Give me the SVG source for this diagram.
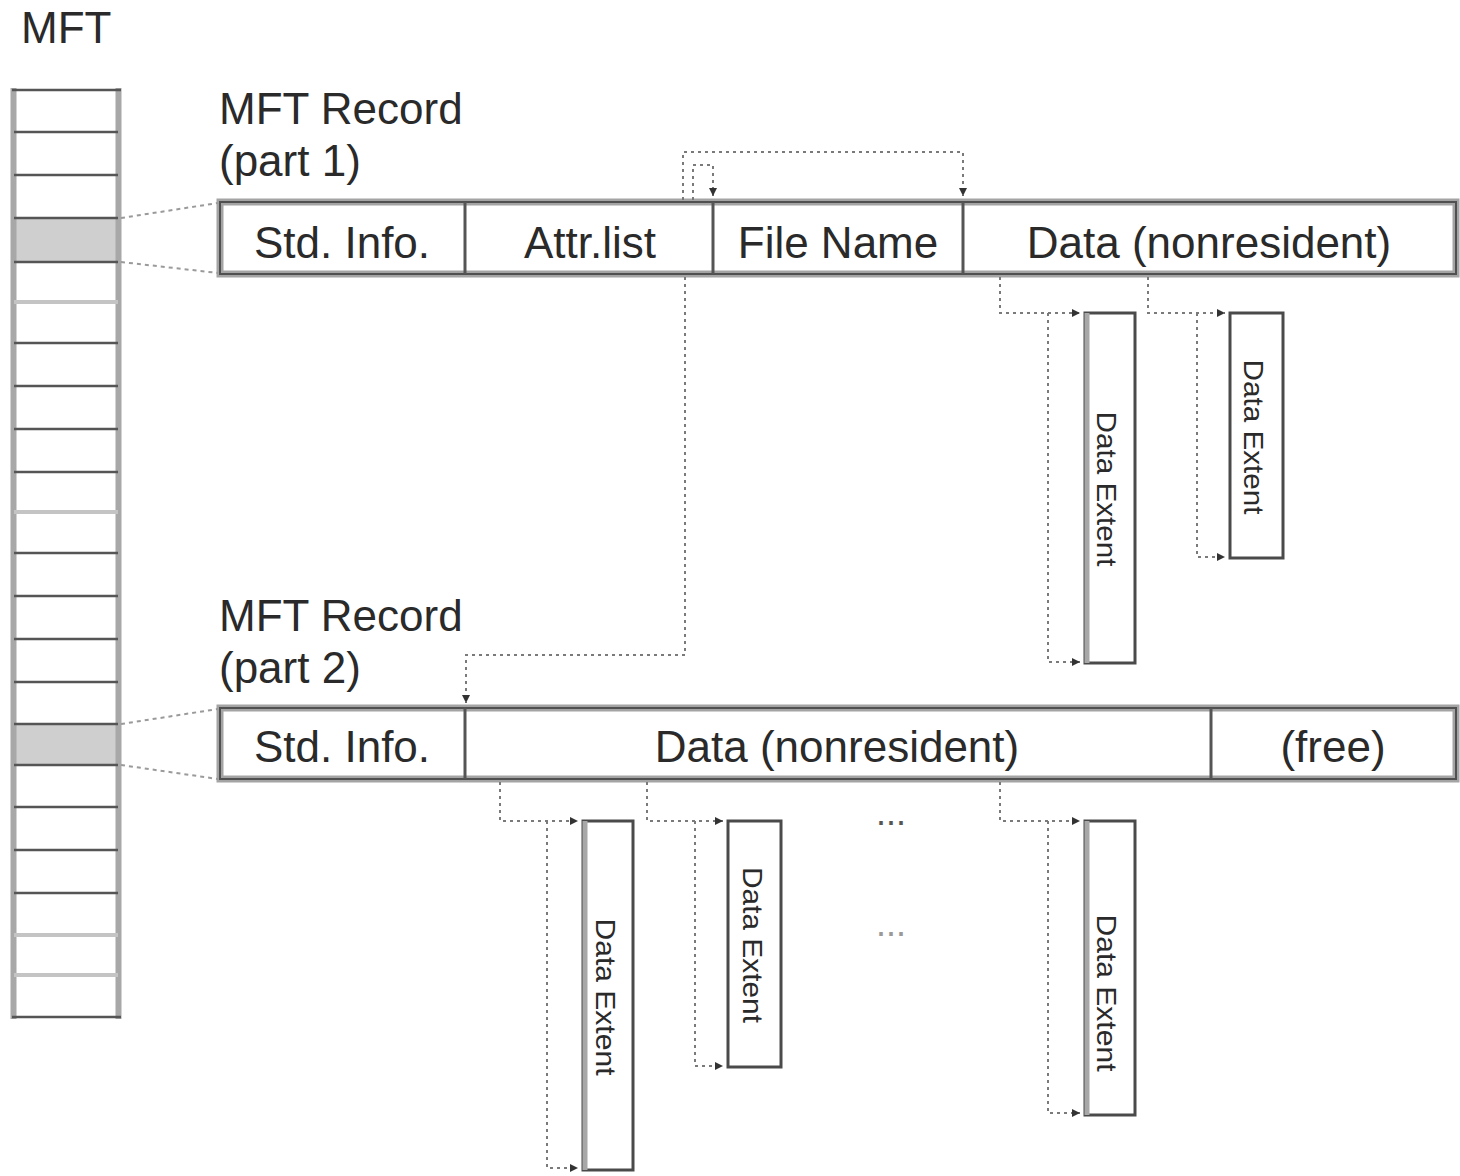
<svg xmlns="http://www.w3.org/2000/svg" width="1460" height="1176" viewBox="0 0 1460 1176">
<defs>
<style>
text{font-family:"Liberation Sans",Arial,sans-serif;fill:#2a2a2a}
.lbl{font-size:44px}
.cell{font-size:44px;text-anchor:middle}
.ext{font-size:28px;text-anchor:middle;dominant-baseline:central}
.row{stroke:#555;stroke-width:2.5}
.rowl{stroke:#c4c4c4;stroke-width:4}
.side{stroke:#a8a8a8;stroke-width:6}
.shade{fill:#cfcfcf}
.recout{fill:#fff;stroke:#a4a4a4;stroke-width:7}
.recin{fill:none;stroke:#505050;stroke-width:2}
.div{stroke:#555;stroke-width:3}
.extbox{fill:#fff;stroke:#4a4a4a;stroke-width:3}
.extside{stroke:#a8a8a8;stroke-width:5}
.dot{fill:none;stroke:#7a7a7a;stroke-width:2;stroke-dasharray:3 4}
.link{fill:none;stroke:#9a9a9a;stroke-width:2;stroke-dasharray:4 4}
.ell{font-size:36px;fill:#555;text-anchor:middle}
</style>
<marker id="ah" markerUnits="userSpaceOnUse" markerWidth="10" markerHeight="10" refX="8" refY="4" orient="auto">
<path d="M0,0 L8,4 L0,8 z" fill="#333"/>
</marker>
</defs>
<rect width="1460" height="1176" fill="#fff"/>

<g id="mft">
<text class="lbl" x="21" y="43">MFT</text>
<rect class="shade" x="14" y="218" width="104" height="44"/>
<rect class="shade" x="14" y="724" width="104" height="41"/>
<line class="side" x1="13.5" y1="88" x2="13.5" y2="1019"/>
<line class="side" x1="118.5" y1="88" x2="118.5" y2="1019"/>
<g>
<line class="row" x1="12" y1="90" x2="121" y2="90"/>
<line class="row" x1="14" y1="132" x2="118" y2="132"/>
<line class="row" x1="14" y1="175" x2="118" y2="175"/>
<line class="row" x1="14" y1="218" x2="118" y2="218"/>
<line class="row" x1="14" y1="262" x2="118" y2="262"/>
<line class="rowl" x1="14" y1="302" x2="118" y2="302"/>
<line class="row" x1="14" y1="343" x2="118" y2="343"/>
<line class="row" x1="14" y1="386" x2="118" y2="386"/>
<line class="row" x1="14" y1="429" x2="118" y2="429"/>
<line class="row" x1="14" y1="472" x2="118" y2="472"/>
<line class="rowl" x1="14" y1="512" x2="118" y2="512"/>
<line class="row" x1="14" y1="553" x2="118" y2="553"/>
<line class="row" x1="14" y1="596" x2="118" y2="596"/>
<line class="row" x1="14" y1="639" x2="118" y2="639"/>
<line class="row" x1="14" y1="682" x2="118" y2="682"/>
<line class="row" x1="14" y1="724" x2="118" y2="724"/>
<line class="row" x1="14" y1="765" x2="118" y2="765"/>
<line class="row" x1="14" y1="807" x2="118" y2="807"/>
<line class="row" x1="14" y1="850" x2="118" y2="850"/>
<line class="row" x1="14" y1="893" x2="118" y2="893"/>
<line class="rowl" x1="14" y1="935" x2="118" y2="935"/>
<line class="rowl" x1="14" y1="975" x2="118" y2="975"/>
<line class="row" x1="12" y1="1017" x2="121" y2="1017"/>
</g>
</g>

<g id="record1">
<text class="lbl" x="219" y="124">MFT Record</text>
<text class="lbl" x="219" y="176">(part 1)</text>
<rect class="recout" x="220" y="202" width="1236" height="72"/>
<rect class="recin" x="220" y="202" width="1236" height="72"/>
<line class="div" x1="465" y1="202" x2="465" y2="274"/>
<line class="div" x1="713" y1="202" x2="713" y2="274"/>
<line class="div" x1="963" y1="202" x2="963" y2="274"/>
<text class="cell" x="342" y="258">Std. Info.</text>
<text class="cell" x="590" y="258">Attr.list</text>
<text class="cell" x="838" y="258">File Name</text>
<text class="cell" x="1209" y="258">Data (nonresident)</text>
</g>

<g id="record2">
<text class="lbl" x="219" y="631">MFT Record</text>
<text class="lbl" x="219" y="683">(part 2)</text>
<rect class="recout" x="220" y="708" width="1236" height="71"/>
<rect class="recin" x="220" y="708" width="1236" height="71"/>
<line class="div" x1="465" y1="708" x2="465" y2="779"/>
<line class="div" x1="1211" y1="708" x2="1211" y2="779"/>
<text class="cell" x="342" y="762">Std. Info.</text>
<text class="cell" x="837" y="762">Data (nonresident)</text>
<text class="cell" x="1333" y="762">(free)</text>
</g>

<g id="extentA">
<rect class="extbox" x="1085" y="313" width="50" height="350"/>
<line class="extside" x1="1087" y1="313" x2="1087" y2="663"/>
<text class="ext" transform="translate(1106,489) rotate(90)" textLength="155" lengthAdjust="spacingAndGlyphs">Data Extent</text>
</g>
<g id="extentB">
<rect class="extbox" x="1230" y="313" width="53" height="245"/>
<text class="ext" transform="translate(1253,437) rotate(90)" textLength="155" lengthAdjust="spacingAndGlyphs">Data Extent</text>
</g>
<g id="extentC">
<rect class="extbox" x="583" y="821" width="50" height="349"/>
<line class="extside" x1="585" y1="821" x2="585" y2="1170"/>
<text class="ext" transform="translate(605,997) rotate(90)" textLength="157" lengthAdjust="spacingAndGlyphs">Data Extent</text>
</g>
<g id="extentD">
<rect class="extbox" x="728" y="821" width="53" height="246"/>
<text class="ext" transform="translate(752,945) rotate(90)" textLength="156" lengthAdjust="spacingAndGlyphs">Data Extent</text>
</g>
<g id="extentE">
<rect class="extbox" x="1085" y="821" width="50" height="294"/>
<line class="extside" x1="1087" y1="821" x2="1087" y2="1115"/>
<text class="ext" transform="translate(1106,993) rotate(90)" textLength="157" lengthAdjust="spacingAndGlyphs">Data Extent</text>
</g>

<g id="ellipsis">
<text class="ell" x="891" y="825">...</text>
<text class="ell" x="891" y="936" style="fill:#999">...</text>
</g>

<g id="connectors">
<path class="link" d="M121,218 L218,203"/>
<path class="link" d="M121,262 L218,273"/>
<path class="link" d="M121,724 L218,709"/>
<path class="link" d="M121,765 L218,779"/>
<path class="dot" d="M693,200 V165 H713 V196" marker-end="url(#ah)"/>
<path class="dot" d="M683,200 V152 H963 V196" marker-end="url(#ah)"/>
<path class="dot" d="M685,277 V655 H466 V703" marker-end="url(#ah)"/>
<path class="dot" d="M1000,277 V313 H1080" marker-end="url(#ah)"/>
<path class="dot" d="M1048,313 V662 H1080" marker-end="url(#ah)"/>
<path class="dot" d="M1148,277 V313 H1225" marker-end="url(#ah)"/>
<path class="dot" d="M1197,313 V557 H1225" marker-end="url(#ah)"/>
<path class="dot" d="M500,782 V821 H578" marker-end="url(#ah)"/>
<path class="dot" d="M547,821 V1168 H578" marker-end="url(#ah)"/>
<path class="dot" d="M647,782 V821 H723" marker-end="url(#ah)"/>
<path class="dot" d="M695,821 V1066 H723" marker-end="url(#ah)"/>
<path class="dot" d="M1000,782 V821 H1080" marker-end="url(#ah)"/>
<path class="dot" d="M1048,821 V1113 H1080" marker-end="url(#ah)"/>
</g>
</svg>
